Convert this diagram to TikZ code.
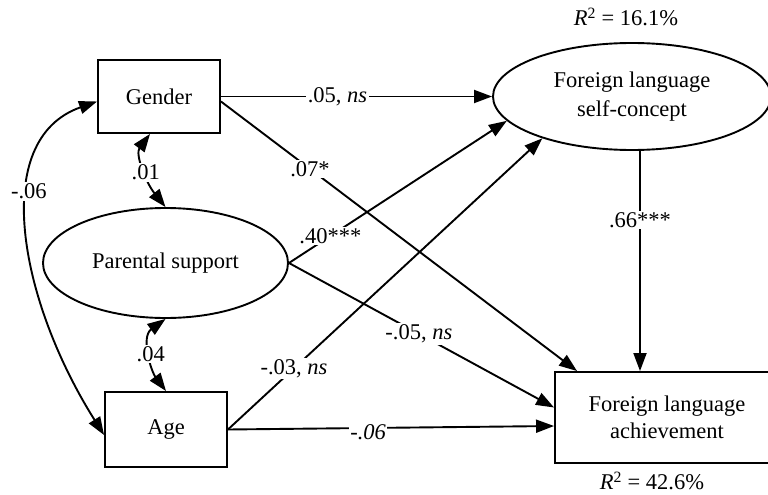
\documentclass[tikz,border=0pt]{standalone}
\usepackage{fontspec}
\setmainfont{Liberation Serif}
\usetikzlibrary{arrows.meta,shapes.geometric}
\begin{document}
\begin{tikzpicture}[x=1pt,y=-1pt,
  font=\fontsize{22.5}{27}\selectfont,
  line width=1.9pt,
  >={Triangle[length=18pt,width=13pt]},
  boxnode/.style={draw, rectangle, inner sep=0pt, align=center},
  ellnode/.style={draw, ellipse, inner sep=0pt, align=center},
  lab/.style={fill=white, inner sep=1.5pt}]
\useasboundingbox (0,0) rectangle (768,495);

\node[boxnode, minimum width=122pt, minimum height=73pt] (g) at (159,96.5) {Gender};
\node[ellnode, minimum width=245pt, minimum height=110pt] (ps) at (165.5,263) {Parental support};
\node[boxnode, minimum width=122pt, minimum height=75pt] (age) at (166,429.5) {Age};
\node[ellnode, minimum width=278pt, minimum height=107pt, font=\fontsize{22.5}{29}\selectfont] (sc) at (632,96.5) {Foreign language\\self-concept};
\node[boxnode, minimum width=224pt, minimum height=91pt] (ach) at (667,417.5) {Foreign language\\achievement};
\node (r1) at (626,17) {\textit{R}\textsuperscript{2} = 16.1\%};
\node (r2) at (652,481) {\textit{R}\textsuperscript{2} = 42.6\%};

\coordinate (scb) at ([xshift=8pt]sc.south);

\draw[->] (g.east) -- node[lab, pos=0.43] {.05, \textit{ns}} (sc.west);
\draw[->] ([yshift=-5pt]g.east) -- node[lab, pos=0.25] {.07*} ([xshift=23pt]ach.north west);
\draw[->] (ps.east) -- node[lab, pos=0.19] {.40***} (sc.191);
\draw[->] (age.east) -- node[lab, pos=0.21] {-.03, \textit{ns}} (sc.205);
\draw[->] (ps.east) -- node[lab, pos=0.49] {-.05, \textit{ns}} ([yshift=10pt]ach.west);
\draw[->] (age.east) -- node[lab, pos=0.43, yshift=-4pt] {\textit{-.06}} ([yshift=-8.5pt]ach.west);
\draw[->] (scb) -- node[lab, pos=0.315] {.66***} (scb |- ach.north);

\draw[<->] ([yshift=-5pt]g.west) .. controls +(-108,38) and +(-85,-135) .. node[lab, pos=0.385] {-.06} ([yshift=-5.5pt]age.west);
\draw[<->] ([xshift=-9pt]g.south) .. controls +(-15,20) and +(-20,-25) .. node[lab, pos=0.55] {.01} (ps.north);
\draw[<->] (ps.south) .. controls +(-25,18) and +(-15,-20) .. node[lab, pos=0.5] {.04} (age.north);
\end{tikzpicture}
\end{document}
